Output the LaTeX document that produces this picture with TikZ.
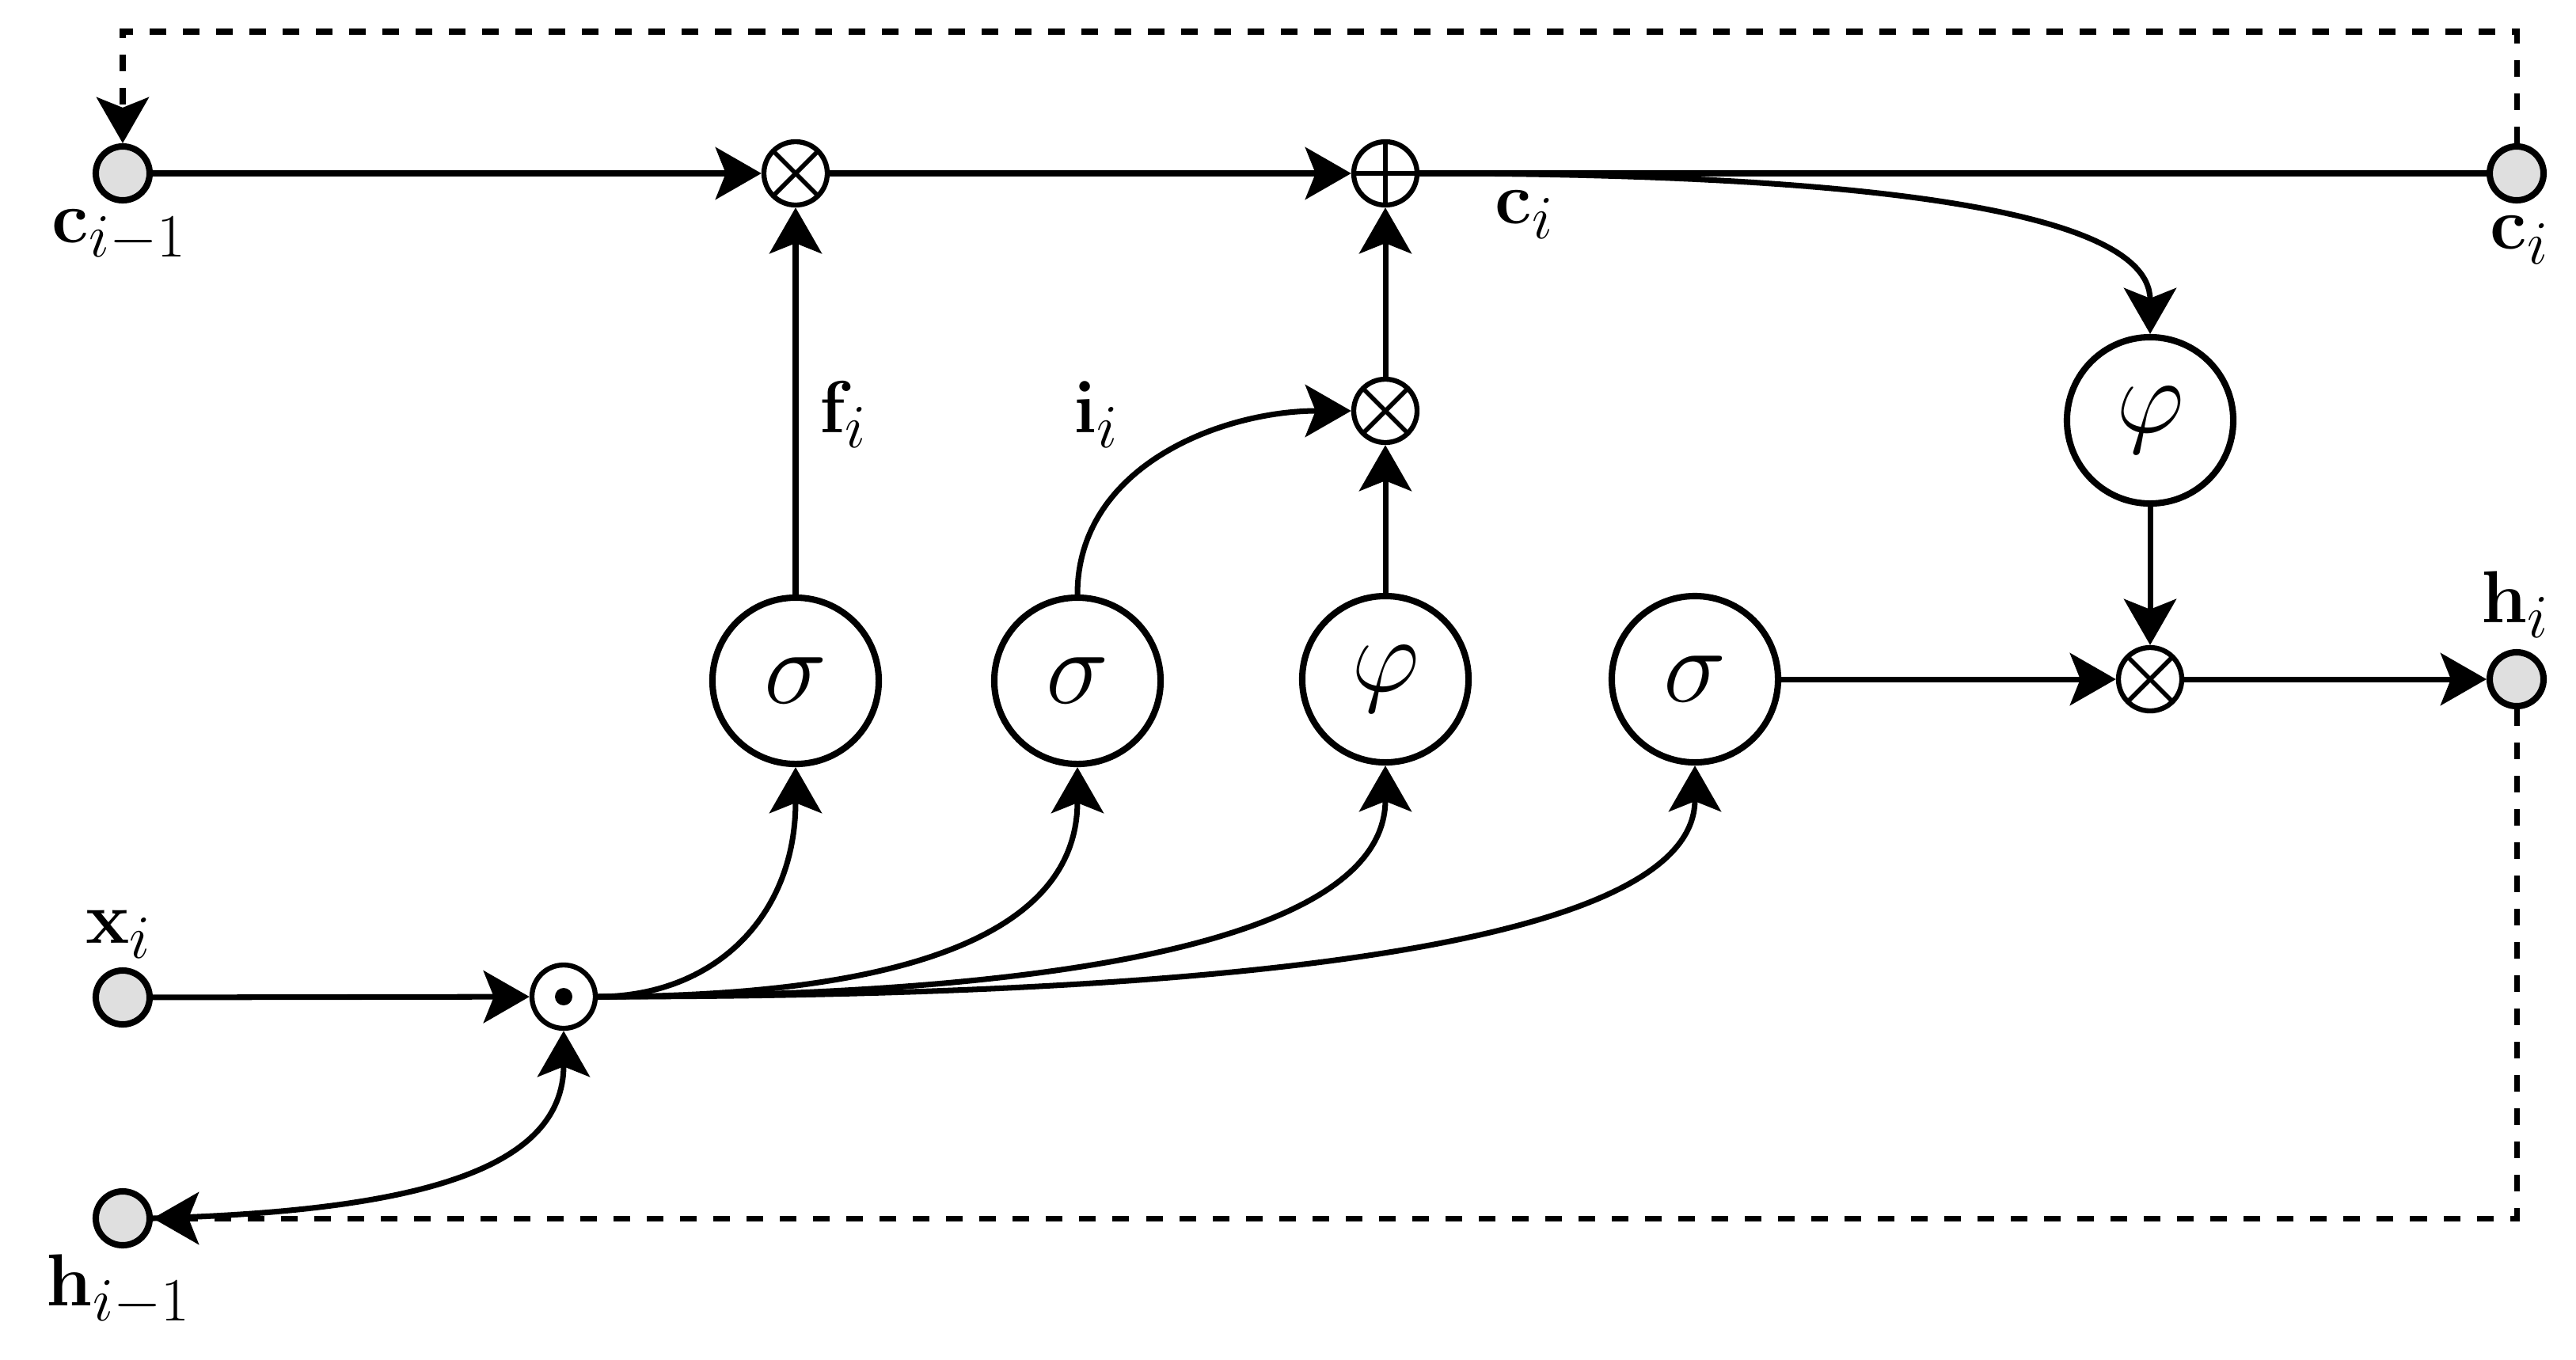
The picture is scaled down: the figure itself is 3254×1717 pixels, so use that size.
\documentclass[tikz,border=0pt]{standalone}
\usetikzlibrary{arrows.meta}
\newcommand{\gsym}[1]{\scalebox{1.53}{$#1$}}
\newcommand{\lsym}[1]{\scalebox{1.065}{$#1$}}
\begin{document}
\begin{tikzpicture}[x=0.01cm,y=-0.01cm,
  arrowhd/.tip={Stealth[length=0.58cm,width=0.66cm,inset=0.13cm]},
  conn/.style={line width=2pt,-arrowhd},
  plain/.style={line width=2pt},
  fb/.style={line width=2pt,dash pattern=on 0.21cm off 0.21cm},
  port/.style={circle,draw,line width=2.3pt,fill=gray!25,minimum size=0.68cm,inner sep=0pt},
  gate/.style={circle,draw,line width=2.3pt,minimum size=2.10cm,inner sep=0pt,font=\fontsize{24.88}{30}\selectfont},
  op/.style={circle,draw,line width=1.8pt,fill=white,minimum size=0.80cm,inner sep=0pt},
  mulop/.style={op,path picture={\draw[line width=1.6pt]
      (path picture bounding box.south west) -- (path picture bounding box.north east)
      (path picture bounding box.north west) -- (path picture bounding box.south east);}},
  plusop/.style={op,path picture={\draw[line width=1.6pt]
      (path picture bounding box.north) -- (path picture bounding box.south)
      (path picture bounding box.west) -- (path picture bounding box.east);}},
  lbl/.style={font=\fontsize{24.88}{30}\selectfont,inner sep=0pt}
]
\useasboundingbox (0,0) rectangle (3254,1717);

% ports
\node[port] (cp) at (155,219) {};
\node[port] (cn) at (3179,219) {};
\node[port] (hn) at (3179,858) {};
\node[port] (xi) at (155,1260) {};
\node[port] (hp) at (155,1539) {};

% operators
\node[mulop] (m1) at (1005,219) {};
\node[plusop] (ad) at (1750,219) {};
\node[mulop] (m2) at (1750,519) {};
\node[mulop] (m3) at (2716,858) {};
\node[op] (dt) at (712,1259) {};
\fill (dt.center) circle[radius=0.11cm];

% gates
\node[gate] (g1) at (1005,860) {\gsym{\sigma}};
\node[gate] (g2) at (1361,860) {\gsym{\sigma}};
\node[gate] (g3) at (1750,858) {\gsym{\varphi}};
\node[gate] (g4) at (2141,858) {\gsym{\sigma}};
\node[gate] (g5) at (2716,531) {\gsym{\varphi}};

% labels
\node[lbl] (lcp) at (151,298) {\lsym{\mathbf{c}_{i-1}}};
\node[lbl] (lcm) at (1926,271) {\lsym{\mathbf{c}_{i}}};
\node[lbl] (lcn) at (3183,303) {\lsym{\mathbf{c}_{i}}};
\node[lbl] (lhn) at (3177,764) {\lsym{\mathbf{h}_{i}}};
\node[lbl] (lxi) at (150,1180) {\lsym{\mathbf{x}_{i}}};
\node[lbl] (lhp) at (150,1630) {\lsym{\mathbf{h}_{i-1}}};
\node[lbl] (lf) at (1065,524) {\lsym{\mathbf{f}_{i}}};
\node[lbl] (li) at (1385,524) {\lsym{\mathbf{i}_{i}}};

% cell state path
\draw[conn] (cp) -- (m1);
\draw[conn] (m1) -- (ad);
\draw[plain] (ad) -- (cn);
\draw[conn] (ad.east) .. controls (2250,219) and (2716,250) .. (g5.north);

% gates to operators
\draw[conn] (g1) -- (m1);
\draw[conn] (g2.north) to[out=90,in=180] (m2.west);
\draw[conn] (g3) -- (m2);
\draw[conn] (m2) -- (ad);
\draw[conn] (g4) -- (m3);
\draw[conn] (g5) -- (m3);
\draw[conn] (m3) -- (hn);

% inputs
\draw[conn] (xi) -- (dt);
\draw[conn] (hp.east) .. controls (520,1530) and (712,1480) .. (dt.south);
\draw[conn] (dt.east) .. controls (900,1259) and (1005,1160) .. (g1.south);
\draw[conn] (dt.east) .. controls (1100,1259) and (1361,1196) .. (g2.south);
\draw[conn] (dt.east) .. controls (1300,1259) and (1750,1196) .. (g3.south);
\draw[conn] (dt.east) .. controls (1550,1259) and (2141,1196) .. (g4.south);

% feedback
\coordinate (tr) at (3179,40);
\coordinate (tl) at (155,40);
\coordinate (br) at (3179,1539);
\draw[fb,-arrowhd] (cn) -- (tr) -- (tl) -- (cp);
\draw[fb,-arrowhd] (hn) -- (br) -- (hp);
\end{tikzpicture}
\end{document}
